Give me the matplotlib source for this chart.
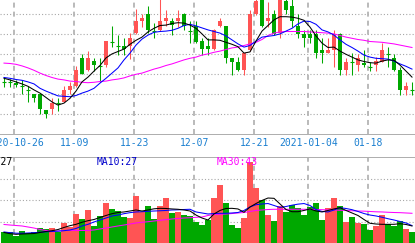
import matplotlib
matplotlib.use("Agg")
import matplotlib.pyplot as plt
import numpy as np

plt.rcParams['lines.scale_dashes'] = False

# daily candles, 2020-10-22 .. 2021-01-27
opens = [10.82, 10.82, 10.78, 10.71, 10.61, 10.50, 10.50, 10.11, 10.13, 10.28,
         10.32, 10.61, 10.71, 11.40, 11.11, 11.32, 11.21, 11.22, 11.80, 11.71,
         11.71, 11.71, 12.03, 12.32, 12.51, 12.07, 12.11, 12.32, 12.32, 12.32,
         12.51, 12.09, 12.21, 11.82, 11.71, 11.63, 12.21, 12.21, 11.40, 11.32,
         11.11, 11.61, 12.51, 12.90, 12.32, 12.51, 12.03, 12.82, 12.71, 12.21,
         12.01, 12.01, 12.01, 11.61, 11.53, 11.61, 12.01, 11.11, 11.30, 11.22,
         11.29, 11.19, 11.22, 11.32, 11.51, 11.40, 11.11, 10.61, 10.61]
highs = [10.90, 10.88, 10.86, 10.86, 10.71, 10.51, 10.50, 10.11, 10.40, 10.40,
         10.71, 10.82, 11.21, 11.51, 11.59, 11.42, 11.41, 11.83, 12.21, 11.98,
         11.90, 12.03, 12.63, 12.52, 12.71, 12.28, 12.95, 12.61, 12.40, 12.61,
         12.53, 12.32, 12.32, 11.90, 11.90, 12.13, 12.40, 12.21, 11.40, 11.44,
         11.53, 12.61, 12.95, 12.95, 12.82, 12.61, 12.97, 12.88, 12.90, 12.51,
         12.11, 12.11, 12.11, 11.90, 11.90, 12.11, 12.03, 11.40, 11.53, 11.51,
         11.61, 11.32, 11.43, 11.79, 11.69, 11.51, 11.19, 10.82, 10.82]
lows = [10.69, 10.69, 10.68, 10.51, 10.31, 10.31, 10.00, 9.90, 10.01, 10.09,
        10.30, 10.51, 10.68, 11.01, 11.09, 11.09, 10.82, 11.19, 11.69, 11.48,
        11.48, 11.38, 12.01, 12.19, 12.03, 11.90, 12.09, 12.21, 11.98, 12.19,
        12.11, 11.79, 11.79, 11.48, 11.48, 11.61, 12.19, 11.29, 10.98, 11.09,
        10.98, 11.59, 12.48, 12.19, 12.19, 11.98, 11.90, 12.51, 12.19, 11.90,
        11.69, 11.79, 11.40, 11.29, 11.53, 11.19, 10.98, 10.98, 10.98, 11.09,
        11.19, 11.09, 11.09, 11.30, 11.19, 11.09, 10.48, 10.48, 10.48]
closes = [10.82, 10.82, 10.72, 10.71, 10.61, 10.42, 10.13, 10.01, 10.29, 10.28,
          10.61, 10.71, 11.11, 11.01, 11.40, 11.22, 11.21, 11.82, 11.80, 11.71,
          11.63, 11.90, 12.32, 12.40, 12.11, 12.07, 12.32, 12.40, 12.23, 12.40,
          12.21, 12.09, 11.82, 11.63, 11.63, 12.11, 12.32, 11.42, 11.32, 11.11,
          11.53, 12.52, 12.82, 12.21, 12.40, 12.01, 12.90, 12.61, 12.32, 12.01,
          11.90, 11.90, 11.53, 11.53, 11.61, 12.01, 11.11, 11.32, 11.30, 11.40,
          11.22, 11.19, 11.32, 11.61, 11.51, 11.11, 10.61, 10.71, 10.61]

ma5 = [10.90, 10.86, 10.81, 10.76, 10.70, 10.61, 10.53, 10.42, 10.31, 10.23,
       10.28, 10.40, 10.58, 10.81, 10.93, 11.08, 11.22, 11.41, 11.51, 11.57,
       11.63, 11.75, 11.85, 11.93, 12.06, 12.15, 12.22, 12.23, 12.27, 12.29,
       12.28, 12.23, 12.15, 12.01, 11.86, 11.86, 11.85, 11.80, 11.75, 11.69,
       11.53, 11.56, 11.83, 12.08, 12.22, 12.36, 12.44, 12.44, 12.43, 12.40,
       12.35, 12.18, 11.96, 11.78, 11.67, 11.68, 11.58, 11.50, 11.43, 11.36,
       11.32, 11.29, 11.28, 11.33, 11.36, 11.35, 11.23, 11.08, 10.93]
ma10 = [10.92, 10.90, 10.87, 10.85, 10.81, 10.76, 10.65, 10.58, 10.52, 10.46,
        10.45, 10.44, 10.47, 10.53, 10.58, 10.65, 10.78, 10.90, 11.03, 11.16,
        11.36, 11.53, 11.73, 11.88, 11.98, 12.05, 12.07, 12.08, 12.10, 12.15,
        12.22, 12.25, 12.21, 12.16, 12.11, 12.07, 12.03, 11.96, 11.86, 11.76,
        11.68, 11.72, 11.83, 11.93, 11.95, 11.97, 12.01, 12.08, 12.15, 12.26,
        12.33, 12.32, 12.25, 12.11, 12.06, 11.98, 11.86, 11.75, 11.67, 11.58,
        11.48, 11.43, 11.40, 11.39, 11.38, 11.33, 11.26, 11.20, 11.13]
ma30 = [11.28, 11.27, 11.25, 11.21, 11.16, 11.10, 11.03, 10.97, 10.92, 10.88,
        10.86, 10.83, 10.82, 10.80, 10.79, 10.80, 10.82, 10.83, 10.86, 10.88,
        10.91, 10.96, 11.00, 11.03, 11.08, 11.13, 11.17, 11.22, 11.26, 11.31,
        11.36, 11.40, 11.43, 11.48, 11.51, 11.55, 11.58, 11.62, 11.66, 11.68,
        11.72, 11.76, 11.80, 11.87, 11.97, 12.03, 12.06, 12.07, 12.07, 12.07,
        12.07, 12.06, 12.05, 12.04, 12.03, 12.01, 11.97, 11.93, 11.90, 11.87,
        11.85, 11.82, 11.81, 11.80, 11.78, 11.76, 11.73, 11.70, 11.67]

volume = [19.4, 18.7, 14.4, 20.3, 18.2, 18.7, 23.7, 22.9, 24.1, 19.4,
          30.5, 25.8, 41.9, 35.6, 47.0, 26.7, 39.4, 55.9, 48.3, 45.7,
          38.5, 37.2, 64.8, 44.8, 52.1, 35.6, 52.1, 62.2, 43.2, 44.8,
          40.6, 39.4, 32.1, 27.9, 33.7, 61.8, 78.7, 55.5, 27.9, 24.5,
          37.2, 108.3, 75.3, 59.7, 40.6, 33.0, 52.1, 44.8, 53.3, 49.1,
          40.6, 51.2, 55.5, 34.3, 49.1, 62.6, 52.1, 32.1, 38.1, 30.9,
          29.2, 21.6, 27.1, 40.6, 28.8, 27.1, 33.0, 22.9, 19.4]
vol_ma5 = [18.4, 16.9, 16.1, 16.5, 16.8, 17.1, 18.4, 19.7, 20.7, 22.2,
           24.8, 27.1, 28.8, 31.4, 33.4, 34.9, 37.5, 40.0, 42.3, 43.8,
           44.5, 45.7, 47.0, 45.7, 47.0, 48.5, 49.1, 48.9, 48.3, 47.9,
           47.0, 45.7, 40.6, 36.8, 34.3, 41.9, 46.4, 48.9, 49.1, 48.3,
           44.1, 50.8, 55.2, 59.1, 62.2, 61.8, 54.6, 47.6, 44.8, 44.8,
           46.4, 48.3, 45.7, 44.5, 46.4, 48.3, 49.9, 46.4, 43.2, 40.0,
           34.9, 30.1, 29.2, 28.8, 28.8, 28.8, 29.6, 28.6, 26.7]
vol_ma10 = [19.1, 18.2, 17.5, 17.4, 17.8, 18.2, 18.7, 19.3, 19.7, 20.1,
            20.7, 21.6, 23.5, 26.7, 28.8, 31.8, 34.3, 36.8, 39.4, 40.6,
            42.3, 43.6, 44.5, 44.8, 45.3, 45.7, 46.0, 46.4, 47.0, 47.2,
            47.6, 47.9, 44.5, 43.2, 41.9, 42.5, 42.8, 42.8, 43.2, 43.8,
            46.4, 50.8, 53.7, 54.6, 55.2, 52.7, 50.2, 51.4, 53.1, 54.4,
            55.2, 52.7, 47.6, 45.1, 44.5, 47.0, 49.9, 48.9, 47.4, 45.1,
            42.5, 40.6, 39.4, 37.8, 35.9, 34.3, 32.4, 30.5, 27.2]
vol_ma30 = [28.6, 27.9, 27.3, 26.7, 25.4, 24.1, 22.2, 21.0, 20.3, 20.3,
            21.0, 21.0, 21.0, 21.0, 21.0, 21.6, 22.9, 24.1, 25.4, 26.7,
            27.9, 29.2, 30.5, 31.4, 32.1, 33.0, 33.9, 34.7, 35.6, 36.2,
            36.8, 37.2, 37.7, 38.1, 40.0, 41.3, 41.5, 41.9, 42.5, 43.2,
            43.8, 45.1, 46.4, 47.0, 47.6, 47.9, 47.9, 47.9, 47.9, 47.9,
            47.9, 47.9, 47.6, 47.4, 47.0, 47.0, 46.6, 46.4, 46.0, 45.7,
            45.5, 45.1, 44.7, 44.5, 44.1, 43.8, 43.6, 43.2, 42.8]

tick_idx = [2, 12, 22, 32, 42, 51, 61]
tick_labels = ['2020-10-26', '11-09', '11-23', '12-07', '12-21', '2021-01-04', '01-18']

RED = '#ff5454'
GREEN = '#00a800'
GRID = '#a8a8a8'
W, H = 415, 243

n = len(closes)
idx = np.arange(n)
up = np.array(closes) > np.array(opens)
colors = [RED if u else GREEN for u in up]

fig = plt.figure(figsize=(W / 100, H / 100), dpi=100)
fig.patch.set_facecolor('white')

def px_rect(top, bottom):
    return [0, (H - bottom) / H, 1, (bottom - top) / H]

ax = fig.add_axes(px_rect(0, 134))
ax_d = fig.add_axes(px_rect(134, 158))
ax_v = fig.add_axes(px_rect(158, H))

xl = (-4 / 6, (W - 4) / 6)
for a in (ax, ax_d, ax_v):
    a.set_xlim(*xl)
    a.set_xticks([])
    a.set_yticks([])
    for s in a.spines.values():
        s.set_visible(False)

grid_x = [t - 0.28 for t in tick_idx]

# price panel
ax.set_ylim(9.5075, 12.8575)
for g in [10.0, 10.5, 11.0, 11.5, 12.0, 12.5]:
    ax.axhline(g, color=GRID, lw=0.8, dashes=(0.8, 1.5), zorder=0)
for g in grid_x:
    ax.axvline(g, color='#b4b4b4', lw=1.3, dashes=(3.6, 2.9), zorder=0)

for i in idx:
    ax.vlines(i, lows[i], highs[i], color=colors[i], lw=0.75, zorder=2)
    body = abs(closes[i] - opens[i])
    lo = min(opens[i], closes[i])
    if body < 0.03:
        ax.hlines(opens[i], i - 0.36, i + 0.36, color=colors[i], lw=0.8, zorder=2)
    else:
        ax.bar(i, body, bottom=lo, width=0.72, color=colors[i], lw=0, zorder=2)

ax.plot(idx, ma30, color='#ff00ff', lw=0.75, zorder=3)
ax.plot(idx, ma10, color='#0000ff', lw=0.75, zorder=3)
ax.plot(idx, ma5, color='black', lw=0.75, zorder=3)

# date band
ax_d.set_ylim(0, 1)
ax_d.axhline(1, color='#a0a0a0', lw=1.2)
ax_d.axhline(0, color='#a0a0a0', lw=1.2)
for t, lab in zip(tick_idx, tick_labels):
    ax_d.text(t - 0.28, 0.62, lab, ha='center', va='center', color='#1a7fd0',
              family='DejaVu Sans Mono', fontsize=7)

# volume panel
ax_v.set_ylim(5.08, 113.0)
for g in [32.1, 59.2, 86.3]:
    ax_v.axhline(g, color=GRID, lw=0.8, dashes=(0.8, 1.5), zorder=0)
for g in grid_x:
    ax_v.axvline(g, color='#b4b4b4', lw=1.3, dashes=(3.6, 2.9), zorder=0)
ax_v.bar(idx, volume, width=0.84, color=colors, lw=0, zorder=2)
ax_v.plot(idx, vol_ma30, color='#ff00ff', lw=0.75, zorder=3)
ax_v.plot(idx, vol_ma10, color='#0000ff', lw=0.75, zorder=3)
ax_v.plot(idx, vol_ma5, color='black', lw=0.75, zorder=3)

def px_x(x):
    return (x - 4) / 6

ax_v.text(px_x(12.5), 108.0, 'MA5:%.0f' % vol_ma5[-1], ha='right', va='center',
          color='black', family='DejaVu Sans Mono', fontsize=7, zorder=4)
ax_v.text(px_x(96.5), 108.0, 'MA10:%.0f' % vol_ma10[-1], ha='left', va='center',
          color='#0000cc', family='DejaVu Sans Mono', fontsize=7, zorder=4)
ax_v.text(px_x(216.5), 108.0, 'MA30:%.0f' % vol_ma30[-1], ha='left', va='center',
          color='#ff00ff', family='DejaVu Sans Mono', fontsize=7, zorder=4)

fig.savefig('out.png', dpi=100, facecolor='white')
